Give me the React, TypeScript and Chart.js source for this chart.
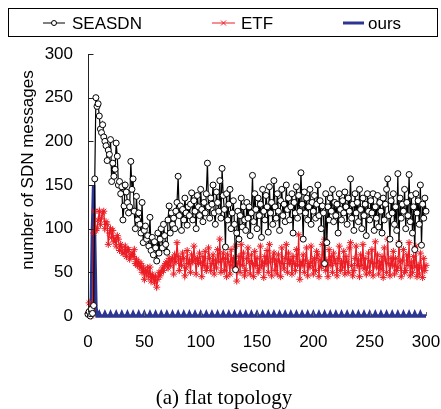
import React, { useEffect, useRef } from "react";
import { Chart, registerables } from "chart.js";

Chart.register(...registerables);

const xTicks = [0, 50, 100, 150, 200, 250, 300];
const yTicks = [0, 50, 100, 150, 200, 250, 300];
const seriesNames = ["SEASDN", "ETF", "ours"];

// one sample per second, t = 0 .. 300
const seasdn = [
  2, 5, 0, 8, 3, 12, 157, 250, 240, 243,
  229, 214, 210, 219, 205, 200, 195, 178, 190, 185,
  202, 154, 175, 160, 168, 198, 183, 150, 154, 140,
  148, 110, 126, 150, 142, 130, 118, 125, 177, 145,
  157, 120, 100, 137, 110, 118, 105, 95, 130, 84,
  98, 103, 88, 92, 80, 113, 75, 90, 70, 85,
  78, 63, 95, 72, 88, 100, 78, 105, 92, 82,
  73, 110, 126, 95, 118, 105, 112, 100, 120, 130,
  160, 115, 126, 98, 122, 110, 135, 118, 104, 125,
  115, 128, 141, 110, 132, 120, 100, 138, 125, 115,
  145, 122, 108, 130, 118, 140, 175, 125, 112, 135,
  128, 150, 118, 105, 142, 130, 120, 155, 112, 169,
  138, 122, 79, 140, 110, 128, 145, 100, 118, 132,
  105, 53, 95, 120, 88, 115, 135, 102, 125, 110,
  98, 130, 112, 125, 92, 118, 161, 108, 140, 122,
  100, 135, 115, 128, 90, 145, 120, 110, 138, 125,
  96, 148, 118, 130, 105, 155, 125, 112, 140, 120,
  98, 132, 145, 115, 128, 108, 150, 122, 135, 110,
  125, 140, 95, 130, 118, 148, 112, 138, 120, 164,
  128, 88, 142, 118, 135, 110, 125, 145, 105, 130,
  120, 138, 112, 128, 150, 115, 132, 100, 126, 118,
  60, 140, 84, 125, 110, 135, 120, 145, 108, 130,
  115, 128, 95, 140, 122, 110, 132, 118, 142, 125,
  105, 135, 120, 157, 112, 128, 98, 140, 118, 130,
  108, 145, 122, 100, 135, 115, 128, 92, 140, 120,
  110, 132, 118, 140, 98, 125, 112, 138, 102, 130,
  120, 95, 135, 110, 128, 145, 157, 115, 88, 132,
  118, 140, 105, 125, 98, 163, 82, 135, 112, 128,
  120, 145, 100, 130, 115, 162, 108, 138, 95, 125,
  76, 140, 118, 132, 105, 150, 81, 128, 112, 135,
  120,
];

const etf = [
  3, 15, 5, 0, 8, 95, 120, 98, 100, 110,
  120, 105, 112, 118, 120, 100, 108, 105, 82, 95,
  100, 90, 98, 85, 88, 80, 92, 88, 75, 82,
  78, 72, 72, 80, 68, 76, 76, 65, 70, 72,
  68, 76, 60, 65, 58, 62, 55, 60, 50, 56,
  42, 52, 48, 55, 45, 56, 40, 48, 44, 38,
  45, 33, 42, 50, 46, 50, 55, 52, 58, 60,
  62, 55, 66, 58, 64, 66, 48, 70, 62, 84,
  68, 52, 65, 58, 72, 66, 46, 55, 75, 60,
  64, 50, 70, 62, 80, 65, 48, 66, 60, 72,
  62, 45, 68, 58, 74, 52, 56, 78, 66, 52,
  60, 70, 48, 64, 55, 76, 62, 88, 50, 65,
  72, 52, 66, 45, 70, 62, 48, 76, 58, 66,
  55, 80, 40, 60, 68, 50, 82, 58, 72, 46,
  52, 66, 78, 62, 48, 70, 60, 45, 74, 58,
  66, 50, 54, 80, 58, 62, 44, 68, 60, 75,
  50, 82, 62, 46, 66, 72, 52, 64, 48, 70,
  62, 45, 78, 60, 54, 66, 82, 50, 72, 60,
  64, 48, 68, 60, 52, 76, 58, 93, 42, 62,
  58, 70, 50, 64, 78, 46, 60, 56, 80, 62,
  48, 66, 52, 74, 70, 45, 64, 56, 82, 60,
  88, 52, 64, 45, 76, 58, 68, 50, 72, 64,
  60, 46, 66, 80, 52, 62, 56, 74, 48, 68,
  62, 50, 78, 84, 58, 46, 52, 66, 80, 58,
  64, 45, 70, 58, 82, 54, 66, 48, 56, 72,
  50, 62, 76, 46, 60, 85, 56, 70, 48, 62,
  54, 68, 44, 78, 64, 50, 88, 60, 46, 66,
  58, 74, 48, 66, 52, 56, 84, 62, 45, 64,
  76, 50, 52, 70, 58, 84, 46, 62, 50, 68,
  56, 80, 45, 58, 48, 72, 55, 44, 66, 52,
  58,
];

const ours = [
  0, 0, 0, 20, 100, 150, 80, 10, 0, 0,
  3, 0, 0, 0, 0, 3, 0, 0, 0, 0,
  3, 0, 0, 0, 0, 3, 0, 0, 0, 0,
  3, 0, 0, 0, 0, 3, 0, 0, 0, 0,
  3, 0, 0, 0, 0, 3, 0, 0, 0, 0,
  3, 0, 0, 0, 0, 3, 0, 0, 0, 0,
  3, 0, 0, 0, 0, 3, 0, 0, 0, 0,
  3, 0, 0, 0, 0, 3, 0, 0, 0, 0,
  3, 0, 0, 0, 0, 3, 0, 0, 0, 0,
  3, 0, 0, 0, 0, 3, 0, 0, 0, 0,
  3, 0, 0, 0, 0, 3, 0, 0, 0, 0,
  3, 0, 0, 0, 0, 3, 0, 0, 0, 0,
  3, 0, 0, 0, 0, 3, 0, 0, 0, 0,
  3, 0, 0, 0, 0, 3, 0, 0, 0, 0,
  3, 0, 0, 0, 0, 3, 0, 0, 0, 0,
  3, 0, 0, 0, 0, 3, 0, 0, 0, 0,
  3, 0, 0, 0, 0, 3, 0, 0, 0, 0,
  3, 0, 0, 0, 0, 3, 0, 0, 0, 0,
  3, 0, 0, 0, 0, 3, 0, 0, 0, 0,
  3, 0, 0, 0, 0, 3, 0, 0, 0, 0,
  3, 0, 0, 0, 0, 3, 0, 0, 0, 0,
  3, 0, 0, 0, 0, 3, 0, 0, 0, 0,
  3, 0, 0, 0, 0, 3, 0, 0, 0, 0,
  3, 0, 0, 0, 0, 3, 0, 0, 0, 0,
  3, 0, 0, 0, 0, 3, 0, 0, 0, 0,
  3, 0, 0, 0, 0, 3, 0, 0, 0, 0,
  3, 0, 0, 0, 0, 3, 0, 0, 0, 0,
  3, 0, 0, 0, 0, 3, 0, 0, 0, 0,
  3, 0, 0, 0, 0, 3, 0, 0, 0, 0,
  3, 0, 0, 0, 0, 3, 0, 0, 0, 0,
  0,
];

const yTitle = "number of SDN messages";
const xTitle = "second";
const caption = "(a) flat topology";

const BLACK = "#000000";
const RED = "#ec1c24";
const BLUE = "#2c3590";
const SANS = "'Liberation Sans', Arial, sans-serif";
const SERIF = "'Liberation Serif', 'Times New Roman', serif";

const decor = {
  id: "decor",
  afterDatasetsDraw(chart: any) {
    const { ctx, chartArea, scales } = chart;
    const xs = scales.x;
    const ys = scales.y;
    ctx.save();
    ctx.strokeStyle = "#222";
    ctx.lineWidth = 1;
    ctx.beginPath();
    const ax = Math.round(chartArea.left) + 0.5;
    ctx.moveTo(ax, chartArea.top);
    ctx.lineTo(ax, chartArea.bottom);
    yTicks.forEach((v) => {
      const py = Math.round(ys.getPixelForValue(v)) + 0.5;
      ctx.moveTo(ax, py);
      ctx.lineTo(ax + 5, py);
    });
    ctx.stroke();
    ctx.strokeStyle = "#666";
    ctx.beginPath();
    xTicks.forEach((v) => {
      const px = Math.round(xs.getPixelForValue(v)) + 0.5;
      ctx.moveTo(px, chartArea.bottom);
      ctx.lineTo(px, chartArea.bottom - 4);
    });
    ctx.stroke();
    ctx.restore();
  },
  afterDraw(chart: any) {
    const { ctx } = chart;
    ctx.save();
    ctx.strokeStyle = "#000";
    ctx.lineWidth = 1;
    ctx.strokeRect(8.5, 8.5, 429, 28);
    const ly = 23;
    ctx.font = `17px ${SANS}`;
    ctx.fillStyle = "#000";
    ctx.textBaseline = "middle";
    ctx.textAlign = "left";
    // SEASDN
    ctx.strokeStyle = BLACK;
    ctx.beginPath();
    ctx.moveTo(43, ly);
    ctx.lineTo(65, ly);
    ctx.stroke();
    ctx.beginPath();
    ctx.arc(54, ly, 2.5, 0, Math.PI * 2);
    ctx.fillStyle = "#fff";
    ctx.fill();
    ctx.stroke();
    ctx.fillStyle = "#000";
    ctx.fillText(seriesNames[0], 72, ly + 1);
    // ETF
    ctx.strokeStyle = RED;
    ctx.beginPath();
    ctx.moveTo(212, ly);
    ctx.lineTo(235, ly);
    ctx.moveTo(221, ly - 2.5);
    ctx.lineTo(226, ly + 2.5);
    ctx.moveTo(226, ly - 2.5);
    ctx.lineTo(221, ly + 2.5);
    ctx.stroke();
    ctx.fillText(seriesNames[1], 241, ly + 1);
    // ours
    ctx.strokeStyle = BLUE;
    ctx.lineWidth = 3;
    ctx.beginPath();
    ctx.moveTo(343, ly);
    ctx.lineTo(364, ly);
    ctx.stroke();
    ctx.fillText(seriesNames[2], 368, ly + 1);
    // titles
    ctx.textAlign = "center";
    ctx.save();
    ctx.translate(28, 170);
    ctx.rotate(-Math.PI / 2);
    ctx.fillText(yTitle, 0, 0);
    ctx.restore();
    ctx.fillText(xTitle, 258, 367);
    ctx.font = `21px ${SERIF}`;
    ctx.fillText(caption, 224, 398);
    ctx.restore();
  },
};

export default function App() {
  const ref = useRef<HTMLCanvasElement | null>(null);
  useEffect(() => {
    document.body.style.margin = "0";
    const labels = seasdn.map((_, i) => i);
    const chart = new Chart(ref.current as HTMLCanvasElement, {
      type: "line",
      data: {
        labels,
        datasets: [
          {
            label: seriesNames[0],
            data: seasdn,
            borderColor: BLACK,
            borderWidth: 1.2,
            pointStyle: "circle",
            pointRadius: 3,
            pointBorderWidth: 1,
            pointBackgroundColor: "#fff",
            pointBorderColor: BLACK,
            tension: 0,
            clip: false,
            order: 0,
          },
          {
            label: seriesNames[1],
            data: etf,
            borderColor: RED,
            borderWidth: 1.2,
            pointStyle: "star",
            pointRadius: 3.5,
            pointBorderWidth: 1,
            pointBorderColor: RED,
            tension: 0,
            clip: false,
            order: 1,
          },
          {
            label: seriesNames[2],
            data: ours,
            borderColor: BLUE,
            borderWidth: 3.5,
            pointRadius: 0,
            tension: 0,
            clip: false,
            order: 2,
          },
        ],
      },
      options: {
        responsive: false,
        animation: false,
        layout: { padding: { left: 0, right: 15, top: 54, bottom: 0 } },
        plugins: {
          legend: { display: false },
          tooltip: { enabled: false },
        },
        scales: {
          x: {
            type: "linear",
            min: 0,
            max: 300,
            border: { display: false },
            grid: { display: false, drawTicks: false },
            ticks: {
              stepSize: 50,
              padding: 16,
              color: "#000",
              font: { family: SANS, size: 17 },
            },
            afterFit: (s: any) => {
              s.height = 93;
              s.paddingRight = 0;
              s.paddingLeft = 0;
            },
          },
          y: {
            min: 0,
            max: 300,
            border: { display: false },
            grid: { display: false, drawTicks: false },
            ticks: {
              stepSize: 50,
              padding: 15,
              color: "#000",
              font: { family: SANS, size: 17 },
            },
            afterFit: (s: any) => {
              s.width = 88;
              s.paddingTop = 0;
              s.paddingBottom = 0;
            },
          },
        },
      },
      plugins: [decor],
    });
    return () => chart.destroy();
  }, []);
  return <canvas ref={ref} width={441} height={409} style={{ display: "block" }} />;
}
